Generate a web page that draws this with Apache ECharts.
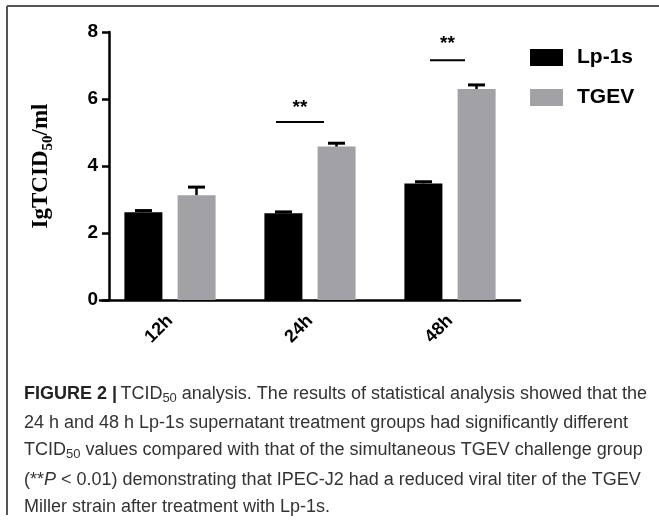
<!DOCTYPE html>
<html>
<head>
<meta charset="utf-8">
<script src="https://cdn.jsdelivr.net/npm/echarts@6/dist/echarts.min.js"></script>
<style>
html, body { margin: 0; padding: 0; background: #fff; }
#chart { width: 659px; height: 521px; }
</style>
</head>
<body>
<div id="chart"></div>
<script>
// data
var groups = ['12h', '24h', '48h'];
var lpMean = [2.62, 2.59, 3.48];
var lpErr = [0.05, 0.04, 0.05];
var tgevMean = [3.13, 4.58, 6.30];
var tgevErr = [0.24, 0.10, 0.12];
var sigGroup = [1, 2];        // index into groups
var sigLine = [5.31, 7.16];   // height of the bracket line
var sigStar = [5.80, 7.70];   // height of the "**"
var yTicks = [0, 8, 2];       // min, max, interval

var FONT = "'Liberation Sans', Arial, sans-serif";
var CAP = "'Liberation Sans', Arial, sans-serif";

// styling only: horizontal span of each bracket line around the group centre
var sigSpan = [[-34, 14], [-20, 15]];
var pairOffset = 26.5;

function errSeries(means, errs, dx) {
    return {
        type: 'custom',
        z: 5,
        silent: true,
        data: means.map(function (m, i) { return [i, m, m + errs[i]]; }),
        renderItem: function (params, api) {
            var lo = api.coord([api.value(0), api.value(1)]);
            var hi = api.coord([api.value(0), api.value(2)]);
            var x = lo[0] + dx;
            return {
                type: 'group',
                children: [
                    { type: 'line', shape: { x1: x, y1: lo[1], x2: x, y2: hi[1] },
                      style: { stroke: '#000', lineWidth: 2.5 } },
                    { type: 'line', shape: { x1: x - 8.5, y1: hi[1], x2: x + 8.5, y2: hi[1] },
                      style: { stroke: '#000', lineWidth: 3 } }
                ]
            };
        }
    };
}

var sub = { font: '13px ' + CAP, fill: '#333', lineHeight: 13, verticalAlign: 'bottom', padding: [0, 0, -2, 0] };
var txt = { font: '18px ' + CAP, fill: '#333', lineHeight: 21, verticalAlign: 'bottom' };

var chart = echarts.init(document.getElementById('chart'));

chart.setOption({
    animation: false,
    grid: { left: 100, right: 139, top: 32, bottom: 221 },
    legend: {
        orient: 'vertical',
        left: 530,
        top: 47,
        padding: 0,
        itemWidth: 33,
        itemHeight: 17,
        itemGap: 19,
        icon: 'rect',
        textStyle: { fontFamily: FONT, fontSize: 21, fontWeight: 'bold', color: '#000', padding: [0, 0, 0, 9] },
        data: ['Lp-1s', 'TGEV']
    },
    xAxis: {
        type: 'category',
        data: groups,
        axisLine: { lineStyle: { color: '#000', width: 2.5 } },
        axisTick: { alignWithLabel: true, length: 6, lineStyle: { color: '#000', width: 2.5 } },
        axisLabel: { rotate: 45, margin: 18, fontFamily: FONT, fontSize: 18, fontWeight: 'bold', color: '#000' }
    },
    yAxis: {
        type: 'value',
        min: yTicks[0],
        max: yTicks[1],
        interval: yTicks[2],
        offset: -9,
        splitLine: { show: false },
        axisLine: { show: true, lineStyle: { color: '#000', width: 2.5 } },
        axisTick: { show: true, length: 7, lineStyle: { color: '#000', width: 2.5 } },
        axisLabel: { margin: 11, fontFamily: FONT, fontSize: 19, fontWeight: 'bold', color: '#000' },
        name: '{a|IgTCID}{s|50}{a|/ml}',
        nameLocation: 'middle',
        nameGap: 56,
        nameTextStyle: {
            rich: {
                a: { fontFamily: "'Liberation Serif', 'Times New Roman', serif", fontSize: 23, fontWeight: 'bold', color: '#000', lineHeight: 26, verticalAlign: 'bottom' },
                s: { fontFamily: "'Liberation Serif', 'Times New Roman', serif", fontSize: 15, fontWeight: 'bold', color: '#000', lineHeight: 15, verticalAlign: 'bottom', padding: [0, 0, -3, 0] }
            }
        }
    },
    series: [
        { name: 'Lp-1s', type: 'bar', data: lpMean, barWidth: 38, barGap: '40%', itemStyle: { color: '#000' } },
        { name: 'TGEV', type: 'bar', data: tgevMean, barWidth: 38, barGap: '40%', itemStyle: { color: '#a2a1a6' } },
        errSeries(lpMean, lpErr, -pairOffset),
        errSeries(tgevMean, tgevErr, pairOffset),
        {
            type: 'custom',
            z: 6,
            silent: true,
            data: sigGroup.map(function (g, i) { return [g, sigLine[i], sigStar[i], i]; }),
            renderItem: function (params, api) {
                var line = api.coord([api.value(0), api.value(1)]);
                var star = api.coord([api.value(0), api.value(2)]);
                var span = sigSpan[api.value(3)];
                var x1 = line[0] + span[0], x2 = line[0] + span[1];
                return {
                    type: 'group',
                    children: [
                        { type: 'line', shape: { x1: x1, y1: line[1], x2: x2, y2: line[1] },
                          style: { stroke: '#000', lineWidth: 2 } },
                        { type: 'text', x: (x1 + x2) / 2, y: star[1] + 2,
                          style: { text: '**', font: 'bold 19px ' + FONT, fill: '#000', align: 'center', verticalAlign: 'middle' } }
                    ]
                };
            }
        }
    ],
    graphic: [
        { type: 'line', shape: { x1: 7, y1: 6, x2: 659, y2: 6 }, style: { stroke: '#555', lineWidth: 2 } },
        { type: 'line', shape: { x1: 7, y1: 6, x2: 7, y2: 515 }, style: { stroke: '#555', lineWidth: 2 } },
        { type: 'text', left: 24, top: 385, style: {
            text: '{b|FIGURE 2 |} {t|TCID}{s|50}{t| analysis. The results of statistical analysis showed that the}',
            rich: { b: { font: 'bold 18px ' + CAP, fill: '#222', lineHeight: 21, verticalAlign: 'bottom' }, t: txt, s: sub } } },
        { type: 'text', left: 24, top: 414, style: {
            text: '24 h and 48 h Lp-1s supernatant treatment groups had significantly different',
            font: '18px ' + CAP, fill: '#333' } },
        { type: 'text', left: 24, top: 441, style: {
            text: '{t|TCID}{s|50}{t| values compared with that of the simultaneous TGEV challenge group}',
            rich: { t: txt, s: sub } } },
        { type: 'text', left: 24, top: 471, style: {
            text: '{t|(**}{i|P}{t| < 0.01) demonstrating that IPEC-J2 had a reduced viral titer of the TGEV}',
            rich: { t: { font: '18px ' + CAP, fill: '#333' }, i: { font: 'italic 18px ' + CAP, fill: '#333' } } } },
        { type: 'text', left: 24, top: 498, style: {
            text: 'Miller strain after treatment with Lp-1s.',
            font: '18px ' + CAP, fill: '#333' } }
    ]
});
</script>
</body>
</html>
